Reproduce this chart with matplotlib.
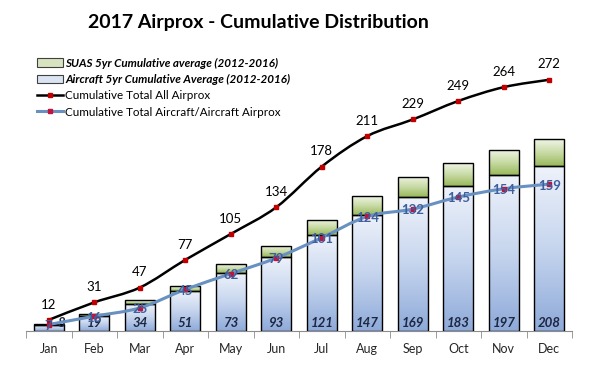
import numpy as np
import matplotlib
matplotlib.use("Agg")
import matplotlib.pyplot as plt
from matplotlib.path import Path
from matplotlib.patches import PathPatch, Patch
from matplotlib.lines import Line2D
from matplotlib.colors import LinearSegmentedColormap

# ==========================================
# DATA
# ==========================================

months = ["Jan", "Feb", "Mar", "Apr", "May", "Jun",
          "Jul", "Aug", "Sep", "Oct", "Nov", "Dec"]

aircraft_avg = [8, 19, 34, 51, 73, 93, 121, 147, 169, 183, 197, 208]
suas_avg = [1, 2, 5, 6, 11, 14, 19, 23, 26, 29, 32, 34]

total_all = [12, 31, 47, 77, 105, 134, 178, 211, 229, 249, 264, 272]
total_ac = [7, 16, 25, 45, 62, 79, 101, 124, 132, 145, 154, 159]

plt.rcParams["font.family"] = ["Lato", "DejaVu Sans"]

# ==========================================
# HELPERS
# ==========================================

def smooth_path(xs, ys, t=1/6):
    # catmull-rom style bezier through the data points
    verts = [(xs[0], ys[0])]
    codes = [Path.MOVETO]
    n = len(xs)
    for i in range(n - 1):
        x0, y0 = (xs[i-1], ys[i-1]) if i > 0 else (xs[i], ys[i])
        x1, y1 = xs[i], ys[i]
        x2, y2 = xs[i+1], ys[i+1]
        x3, y3 = (xs[i+2], ys[i+2]) if i + 2 < n else (x2, y2)
        c1 = (x1 + (x2 - x0) * t, y1 + (y2 - y0) * t)
        c2 = (x2 - (x3 - x1) * t, y2 - (y3 - y1) * t)
        verts += [c1, c2, (x2, y2)]
        codes += [Path.CURVE4] * 3
    return Path(verts, codes)


def gradient_fill(ax, bars, cmap):
    grad = np.linspace(0, 1, 256).reshape(-1, 1)
    for b in bars:
        x0, y0 = b.get_x(), b.get_y()
        w, h = b.get_width(), b.get_height()
        im = ax.imshow(grad, extent=[x0, x0 + w, y0, y0 + h],
                       aspect="auto", cmap=cmap, origin="lower",
                       zorder=b.get_zorder() - 0.1)
        im.set_clip_path(b)
        b.set_facecolor("none")


# ==========================================
# PLOT
# ==========================================

fig = plt.figure(figsize=(5.99, 3.76), dpi=100)
ax = fig.add_axes([0.0434, 0.1197, 0.9116, 0.737])
ax2 = ax.twinx()

x = np.arange(len(months))

blue_cmap = LinearSegmentedColormap.from_list("b", ["#8eaad9", "#c6d5ee", "#eef2fa"])
green_cmap = LinearSegmentedColormap.from_list("g", ["#98b85a", "#c9dba6", "#f0f5e6"])

bars_ac = ax.bar(x, aircraft_avg, width=0.66, edgecolor="black",
                 linewidth=1.0, zorder=2)
bars_su = ax.bar(x, suas_avg, width=0.66, bottom=aircraft_avg,
                 edgecolor="black", linewidth=1.0, zorder=2)
gradient_fill(ax, bars_ac, blue_cmap)
gradient_fill(ax, bars_su, green_cmap)

for xi, v in zip(x, aircraft_avg):
    # the first label sits a little to the right, as in the source chart
    dx = 9 if xi == 0 else 0
    ax.annotate(str(v), (xi, 0), xytext=(dx, 6), textcoords="offset points",
                ha="center", va="center", fontsize=9.5, fontweight="bold",
                fontstyle="italic", color="#1d2740", zorder=5)

ax.set_xlim(-0.5, len(months) - 0.5)
ax.set_ylim(0, 350)
ax2.set_ylim(0, 300)

# lines on the secondary scale
ax2.add_patch(PathPatch(smooth_path(x, total_all), facecolor="none",
                        edgecolor="black", linewidth=1.8, zorder=3))
ax2.plot(x, total_all, linestyle="none", marker="s", markersize=3.2,
         color="#c00000", zorder=4)

ax2.add_patch(PathPatch(smooth_path(x, total_ac), facecolor="none",
                        edgecolor="#6890c0", linewidth=2.2, zorder=3))
ax2.plot(x, total_ac, linestyle="none", marker="s", markersize=3.2,
         color="#c0143c", zorder=4)

for xi, v in zip(x, total_all):
    ax2.annotate(str(v), (xi, v), xytext=(0, 11), textcoords="offset points",
                 ha="center", va="center", fontsize=9.5, color="black")

for xi, v in zip(x, total_ac):
    ax2.annotate(str(v), (xi, v), xytext=(0, -1), textcoords="offset points",
                 ha="center", va="center", fontsize=9.5, fontweight="bold",
                 color="#3c5f9e", zorder=5)

# axes styling
for a in (ax, ax2):
    for s in ("top", "right", "left"):
        a.spines[s].set_visible(False)
ax2.spines["bottom"].set_visible(False)
ax.spines["bottom"].set_color("#8c8c8c")
ax.set_yticks([])
ax2.set_yticks([])

ax.set_xticks(x)
ax.set_xticklabels(months, fontsize=9, color="#262626")
ax.set_xticks(np.arange(-0.5, len(months)), minor=True)
ax.tick_params(axis="x", which="major", length=0, pad=9)
ax.tick_params(axis="x", which="minor", length=5, color="#8c8c8c", direction="out")

fig.text(0.432, 0.94, "2017 Airprox - Cumulative Distribution",
         ha="center", va="center", fontsize=14, fontweight="bold")

handles = [
    Patch(facecolor="#d8e4bf", edgecolor="#404040", linewidth=0.8),
    Patch(facecolor="#dbe4f2", edgecolor="#404040", linewidth=0.8),
    Line2D([], [], color="black", linewidth=1.8, marker="s",
           markersize=3.2, markerfacecolor="#c00000", markeredgecolor="#c00000"),
    Line2D([], [], color="#6890c0", linewidth=2.2, marker="s",
           markersize=3.2, markerfacecolor="#c0143c", markeredgecolor="#c0143c"),
]
labels = [
    "SUAS 5yr Cumulative average (2012-2016)",
    "Aircraft 5yr Cumulative Average (2012-2016)",
    "Cumulative Total All Airprox",
    "Cumulative Total Aircraft/Aircraft Airprox",
]
leg = fig.legend(handles, labels, loc="upper left",
                 bbox_to_anchor=(0.052, 0.862), frameon=False,
                 fontsize=8.4, handlelength=2.2, handleheight=0.8,
                 handletextpad=0.2, labelspacing=0.45, borderpad=0)
for t in leg.get_texts()[:2]:
    t.set_fontweight("bold")
    t.set_fontstyle("italic")

fig.savefig("out.png", dpi=100)
